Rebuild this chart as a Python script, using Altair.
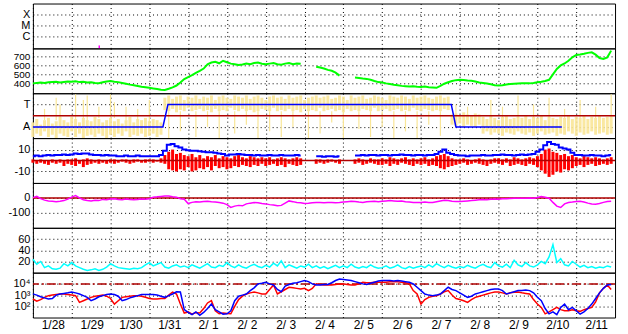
import altair as alt
import pandas as pd

# ---------------- time base ----------------
T0 = pd.Timestamp("2021-01-28", tz="UTC")
T0_MS = int(T0.value // 10**6)
DAY_MS = 86400000
STEP = 0.1  # days between samples
N_DAYS = 15

def day_ms(d):
    return T0_MS + d * DAY_MS

day_ticks = [day_ms(d) for d in range(N_DAYS)]

# ---------------- data ----------------
# flare marks (X/M/C panel)
flare_day = [1.71]
flare_lo = [-0.1]
flare_hi = [0.17]

# solar wind speed (km/s)
speed = [
    400, 405, 410, 404, 412, 415, 418, 410, 416, 420,
    418, 424, 414, 418, 410, 412, 404, 402, 412, 420,
    426, 418, 414, 405, 395, 386, 378, 370, 362, 356,
    350, 344, 338, 330, 326, 340, 356, 376, 410, 448,
    470, 492, 518, 540, 565, 612, 632, 640, 624, 652,
    636, 620, 614, 604, 610, 622, 614, 626, 632, 618,
    612, 620, 626, 614, 608, 620, 626, 614, 622, 618,
    None, None, None, 585, 576, 566, 550, 540, 520, 486,
    None, None, None, 465, 460, 454, 450, 440, 426, 414,
    410, 400, 392, 384, 378, 372, 368, 364, 368, 362,
    360, 366, 358, 354, 350, 372, 396, 412, 426, 436,
    440, 438, 432, 428, 420, 410, 404, 398, 390, 380,
    375, 380, 388, 394, 396, 398, 400, 402, 400, 405,
    412, 418, 426, 440, 500, 560, 600, 622, 652, 690,
    716, 722, 730, 740, 746, 720, 682, 672, 690, 765,
]

# sector polarity scatter (A = 0, T = 1)
ya_lo = [
    -0.45, -0.3, -0.4, -0.2, -0.45, -0.35, -0.5, -0.3, -0.4, -0.45,
    -0.2, -0.45, -0.3, -0.5, -0.4, -0.35, -0.45, -0.3, -0.4, -0.5,
    -0.35, -0.45, -0.3, -0.4, -0.2, -0.45, -0.35, -0.4, -0.3, -0.45,
    -0.4, -0.3, -0.45, -0.35, 0.75, 0.7, 0.8, 0.65, 0.75, 0.7,
    0.85, 0.7, 0.75, 0.8, 0.7, 0.75, 0.65, 0.8, 0.7, 0.75,
    0.7, 0.85, 0.75, 0.7, 0.8, 0.7, 0.75, 0.65, 0.7, 0.8,
    0.75, 0.7, 0.85, 0.7, 0.75, 0.7, 0.8, 0.7, 0.75, 0.65,
    0.8, 0.7, 0.75, 0.7, 0.85, 0.7, 0.75, 0.8, 0.7, 0.75,
    0.65, 0.8, 0.7, 0.75, 0.7, 0.8, 0.75, 0.7, 0.85, 0.7,
    0.75, 0.8, 0.7, 0.75, 0.8, 0.7, 0.75, 0.7, 0.85, 0.75,
    0.7, 0.8, 0.75, 0.7, 0.75, 0.7, 0.8, 0.75, 0.1, 0.05,
    0.15, 0.0, 0.1, 0.05, 0.0, 0.1, -0.3, -0.2, -0.35, -0.25,
    -0.3, -0.4, -0.25, -0.3, -0.35, -0.2, -0.3, -0.35, -0.25, -0.4,
    -0.3, -0.2, -0.35, -0.3, -0.25, -0.4, -0.3, -0.35, -0.2, -0.3,
    -0.4, -0.25, -0.35, -0.3, -0.2, -0.35, -0.3, -0.25, -0.35, -0.3,
]
ya_hi = [
    0.2, 0.35, 0.1, 0.3, 0.4, 0.15, 0.25, 0.45, 0.3, 0.2,
    0.45, 0.35, 0.2, 0.4, 0.3, 0.25, 0.45, 0.35, 0.2, 0.3,
    0.4, 0.25, 0.35, 0.15, 0.3, 0.45, 0.2, 0.35, 0.3, 0.4,
    0.25, 0.35, 0.3, 0.2, 1.3, 1.4, 1.25, 1.35, 1.4, 1.2,
    1.35, 1.3, 1.4, 1.25, 1.35, 1.3, 1.4, 1.2, 1.35, 1.4,
    1.3, 1.25, 1.4, 1.35, 1.3, 1.4, 1.25, 1.35, 1.4, 1.3,
    1.2, 1.35, 1.4, 1.3, 1.35, 1.25, 1.4, 1.3, 1.35, 1.4,
    1.2, 1.3, 1.35, 1.4, 1.3, 1.35, 1.4, 1.25, 1.3, 1.4,
    1.35, 1.2, 1.4, 1.3, 1.35, 1.4, 1.25, 1.3, 1.4, 1.35,
    1.3, 1.2, 1.4, 1.35, 1.3, 1.4, 1.35, 1.25, 1.4, 1.3,
    1.35, 1.4, 1.3, 1.25, 1.35, 1.4, 1.3, 1.35, 0.55, 0.6,
    0.5, 0.65, 0.55, 0.5, 0.6, 0.55, 0.45, 0.35, 0.5, 0.4,
    0.3, 0.45, 0.5, 0.35, 0.4, 0.45, 0.4, 0.5, 0.35, 0.45,
    0.4, 0.5, 0.3, 0.45, 0.4, 0.35, 0.45, 0.4, 0.5, 0.35,
    0.45, 0.4, 0.5, 0.35, 0.45, 0.4, 0.5, 0.4, 0.45, 0.5,
]
spread_i = [3, 6, 7, 11, 13, 14, 17, 20, 21, 24, 27, 30,
            35, 38, 42, 45, 48, 52, 55, 58, 61, 64, 67, 71, 74, 77, 80, 84,
            87, 90, 93, 96, 99, 102, 105,
            109, 112, 118, 121, 125, 129, 133, 137, 141, 145, 149]
spread_lo = [0.3, 0.3, 0.4, 0.3, 0.4, 0.3, 0.4, 0.3, 0.4, 0.3, 0.3, 0.2,
             -0.5, -0.2, -0.45, 0.0, -0.5, -0.3, 0.1, -0.5, -0.2, -0.45, 0.0, -0.5, -0.3, 0.2, -0.5, -0.1,
             -0.45, 0.0, -0.5, -0.2, -0.5, 0.1, -0.4,
             0.5, 0.5, 0.4, 0.4, 0.4, 0.4, 0.4, 0.4, 0.4, 0.4, 0.4]
spread_hi = [0.8, 1.3, 1.0, 1.45, 1.2, 1.4, 0.9, 1.45, 1.1, 0.9, 0.8, 1.2,
             0.7, 0.7, 0.7, 0.7, 0.7, 0.7, 0.7, 0.7, 0.7, 0.7, 0.7, 0.7, 0.7, 0.7, 0.7, 0.7,
             0.7, 0.7, 0.7, 0.7, 0.7, 0.7, 0.7,
             1.0, 0.9, 1.2, 0.9, 1.4, 1.0, 1.3, 0.8, 1.2, 0.9, 1.45]
ta_day = [0, 3.35, 3.48, 10.78, 10.9, 13.63]
ta_val = [0, 0, 1, 1, 0, 0]

# IMF Bt (blue) and Bz range (red), nT
bt = [
    4, 4.5, 4, 4.5, 5, 4.5, 5, 5, 5.5, 5,
    5.5, 6.5, 6, 6.5, 6.5, 5.5, 5, 5, 4.5, 5,
    4.5, 4.5, 4, 4, 4.5, 4, 4, 4.5, 4, 4,
    4, 4, 4, 5, 9, 14.5, 15, 13, 12, 10,
    9.5, 9, 9, 8.5, 8, 7.5, 7.5, 7, 6.5, 6,
    4.5, 5.5, 5.5, 6, 5.5, 5, 5, 4.5, 5, 4.5,
    4.5, 5, 4.5, 4.5, 5, 4.5, 4.5, 4.5, 5, 4.5,
    None, None, None, 4, 4, 3.5, 4, 4, 3.5, 4,
    None, None, None, 4.5, 4.5, 5, 4.5, 5, 5, 4.5,
    5, 5, 4.5, 5, 5, 5.5, 5, 5, 4.5, 5,
    5, 4.5, 5, 5, 6, 8, 10, 7, 6, 5,
    4.5, 4.5, 4, 4.5, 4.5, 4.5, 5, 4.5, 4.5, 5,
    5, 5.5, 5, 5, 4.5, 5, 5.5, 5, 5.5, 6,
    8, 10, 14, 17, 15, 14.5, 12, 11, 10, 7,
    5, 5, 4.5, 4.5, 5, 4.5, 4.5, 4, 4.5, 5,
]
bz_lo = [
    -2, -3, -2, -3, -4, -2, -3, -2, -5, -3,
    -4, -5, -3, -6, -4, -3, -2, -3, -2, -3,
    -2, -3, -2, -1, -2, -3, -2, -1, -2, -2,
    -1, -2, -1, -2, -3, -8, -9, -10, -8, -9,
    -6, -10, -9, -7, -8, -6, -9, -5, -7, -6,
    -8, -7, -5, -6, -4, -5, -6, -4, -5, -3,
    -5, -4, -3, -5, -4, -6, -3, -4, -5, -4,
    None, None, None, -3, -2, -3, -2, -1, -2, -3,
    None, None, None, -3, -2, -4, -3, -2, -3, -4,
    -4, -3, -5, -3, -4, -2, -3, -4, -5, -3,
    -4, -3, -5, -4, -5, -7, -8, -6, -5, -4,
    -3, -2, -4, -3, -2, -3, -4, -5, -3, -2,
    -3, -4, -2, -5, -4, -3, -4, -5, -3, -4,
    -6, -9, -12, -15, -13, -10, -11, -8, -9, -7,
    -5, -4, -6, -4, -3, -5, -4, -3, -4, -3,
]
bz_hi = [
    1, 0, 1, 0, 0, 1, 0, 1, 0, 1,
    1, 2, 0, 1, 2, 1, 0, 1, 0, 0,
    1, 1, 0, 1, 1, 0, 1, 1, 0, 1,
    1, 1, 0, 2, 5, 8, 10, 6, 7, 5,
    4, 6, 3, 5, 2, 4, 3, 5, 2, 4,
    3, 2, 4, 5, 3, 2, 4, 3, 2, 3,
    2, 3, 1, 2, 3, 2, 1, 2, 3, 2,
    None, None, None, 1, 1, 0, 1, 1, 0, 1,
    None, None, None, 1, 2, 1, 0, 2, 1, 1,
    2, 1, 3, 2, 1, 2, 3, 1, 2, 1,
    2, 3, 1, 2, 4, 5, 6, 4, 2, 1,
    1, 2, 1, 0, 1, 2, 1, 0, 1, 2,
    2, 1, 2, 1, 3, 2, 1, 2, 3, 2,
    4, 6, 10, 11, 8, 7, 5, 6, 4, 5,
    3, 2, 4, 3, 2, 3, 2, 1, 2, 3,
]

# Dst index (nT)
dst = [
    2, 10, -5, -15, -20, -22, -25, -22, -18, -8,
    5, 15, 0, -12, -18, -20, -15, -18, -10, -12,
    -8, -5, -10, -12, -8, -10, -12, -10, -8, -9,
    -5, 5, 7, 10, 12, 13, 8, 5, -5, -9,
    -38, -30, -25, -28, -24, -22, -26, -28, -31, -35,
    -45, -64, -55, -50, -53, -40, -35, -31, -33, -38,
    -40, -45, -48, -53, -50, -35, -20, -25, -31, -33,
    -38, -36, -33, -31, -30, -32, -31, -30, -33, -31,
    -28, -25, -22, -24, -28, -30, -26, -24, -22, -25,
    -22, -20, -18, -20, -22, -20, -25, -28, -31, -30,
    -31, -28, -31, -30, -25, -20, -16, -18, -22, -24,
    -24, -22, -20, -18, -15, -12, -10, -12, -9, -8,
    -9, -6, -5, -4, -3, -2, -3, -2, -1, -2,
    3, 9, 5, -2, -30, -55, -64, -40, -31, -28,
    -24, -22, -28, -35, -40, -42, -38, -30, -24, -22,
]

# cyan series
cyan = [
    24, 15, 20, 9, 12, 7, 6, 8, 16, 12,
    18, 12, 9, 6, 4, 5, 7, 4, 6, 10,
    16, 12, 9, 8, 7, 6, 8, 7, 9, 14,
    18, 12, 15, 18, 10, 8, 12, 14, 10, 12,
    9, 14, 11, 8, 12, 16, 10, 9, 13, 11,
    18, 12, 9, 14, 10, 8, 12, 15, 11, 9,
    13, 10, 17, 12, 21, 9, 14, 11, 8, 12,
    10, 15, 9, 12, 8, 11, 7, 10, 13, 9,
    12, 9, 15, 10, 8, 11, 9, 14, 10, 8,
    9, 12, 8, 10, 14, 9, 7, 11, 8, 10,
    12, 9, 14, 10, 16, 12, 9, 13, 10, 8,
    11, 9, 13, 10, 8, 12, 15, 11, 9, 18,
    12, 10, 15, 9, 22, 14, 11, 18, 12, 10,
    14, 20, 16, 28, 50, 18, 25, 14, 12, 20,
    15, 10, 13, 9, 11, 8, 10, 9, 12, 10,
]

# particle flux, log10 values (blue and red)
flux_blue_exp = [
    3.11, 3.0, 2.85, 2.75, 2.65, 2.7, 3.0, 3.1, 3.15, 3.2,
    3.27, 3.2, 3.1, 2.95, 2.8, 2.5, 2.65, 2.85, 2.95, 3.05,
    3.1, 3.05, 2.9, 2.5, 2.6, 2.75, 2.85, 2.95, 3.05, 3.05,
    3.05, 3.05, 3.0, 2.9, 2.8, 2.95, 3.1, 3.3, 3.27, 1.7,
    1.45, 1.25, 1.5, 1.2, 1.45, 1.8, 2.2, 1.7, 1.5, 1.3,
    1.33, 1.6, 2.5, 2.9, 3.0, 3.1, 3.4, 3.65, 4.0, 4.05,
    4.14, 4.0, 3.9, 3.5, 3.3, 3.8, 3.95, 4.05, 4.1, 4.2,
    4.3, 4.2, 4.0, 3.9, 3.9, 3.95, 3.95, 4.1, 4.3, 4.44,
    4.4, 4.35, 4.3, 4.2, 4.1, 4.0, 3.95, 4.05, 4.15, 4.25,
    4.3, 4.3, 4.3, 4.25, 4.3, 4.25, 4.2, 4.15, 4.0, 3.7,
    3.4, 3.1, 3.0, 2.95, 3.0, 3.1, 3.4, 3.7, 3.5, 3.4,
    3.2, 3.0, 2.8, 2.9, 3.1, 3.2, 3.3, 3.4, 3.5, 3.55,
    3.55, 3.4, 3.1, 3.2, 3.3, 3.4, 3.4, 3.45, 3.4, 3.2,
    2.8, 2.5, 1.8, 1.33, 1.5, 1.25, 1.9, 2.2, 1.7, 1.9,
    1.6, 1.3, 1.5, 1.8, 2.2, 2.7, 3.2, 3.6, 3.9, 3.95,
]
flux_red_exp = [
    2.65, 2.45, 2.6, 2.8, 2.95, 3.0, 3.05, 3.1, 3.1, 3.05,
    3.0, 2.95, 2.35, 2.5, 2.65, 2.8, 2.9, 2.95, 3.0, 2.9,
    2.7, 2.2, 2.5, 2.8, 2.85, 2.9, 2.95, 2.95, 2.9, 2.8,
    2.7, 2.65, 2.65, 2.7, 2.7, 3.0, 3.27, 3.1, 2.2, 1.4,
    1.5, 1.3, 1.45, 1.4, 1.8, 2.3, 2.5, 1.6, 1.33, 1.4,
    1.35, 1.33, 2.0, 2.6, 2.9, 3.1, 3.2, 3.27, 3.2, 3.1,
    3.1, 3.5, 3.9, 3.1, 3.3, 3.5, 3.7, 3.65, 3.6, 3.55,
    3.6, 3.4, 3.6, 4.0, 3.95, 3.9, 3.9, 3.9, 3.95, 4.0,
    4.0, 3.95, 3.9, 3.9, 4.0, 4.14, 4.1, 4.1, 4.14, 4.14,
    4.14, 4.15, 4.2, 4.2, 4.2, 4.15, 4.1, 4.0, 3.4, 3.1,
    2.2, 2.6, 2.8, 2.9, 2.95, 3.1, 3.3, 3.4, 3.0, 2.7,
    2.6, 2.5, 2.35, 2.6, 2.8, 2.9, 3.0, 3.1, 3.2, 3.27,
    3.27, 3.2, 3.1, 3.2, 3.25, 3.27, 3.2, 3.15, 3.1, 2.6,
    2.2, 1.9, 1.33, 1.5, 1.7, 1.9, 1.7, 1.6, 1.6, 1.7,
    1.6, 1.55, 1.7, 1.8, 1.9, 2.4, 3.2, 3.6, 3.9, 3.5,
]

# ---------------- tables ----------------
def series(**cols):
    n = min(len(c) for c in cols.values())
    rows, seg, prev_none = [], 0, False
    for i in range(n):
        vals = {k: c[i] for k, c in cols.items()}
        if any(v is None for v in vals.values()):
            if not prev_none:
                seg += 1
            prev_none = True
            continue
        prev_none = False
        rows.append({"t": day_ms(i * STEP), "seg": seg, **vals})
    return pd.DataFrame(rows)

speed_df = series(v=speed)
core_df = series(lo=ya_lo, hi=ya_hi)
spread_df = pd.DataFrame({"t": [day_ms(i * STEP) for i in spread_i], "lo": spread_lo, "hi": spread_hi})
ta_df = pd.DataFrame({"t": [day_ms(d) for d in ta_day], "v": ta_val})
bt_df = series(v=bt)
bz_df = series(lo=bz_lo, hi=bz_hi)
dst_df = series(v=dst)
cyan_df = series(v=cyan)
fb_df = series(v=[10 ** e for e in flux_blue_exp])
fr_df = series(v=[10 ** e for e in flux_red_exp])
flare_df = pd.DataFrame({"t": [day_ms(d) for d in flare_day], "lo": flare_lo, "hi": flare_hi})
one = pd.DataFrame({"a": [0]})

# ---------------- chart ----------------
W, H = 584, 45
DARKRED = "#b00000"
YEL = "#f9e697"

def X(last=False):
    return alt.X(
        "t:T",
        scale=alt.Scale(type="utc", domain=[day_ms(0), day_ms(N_DAYS)]),
        axis=alt.Axis(values=day_ticks, labels=last, format="%-m/%e", labelOffset=20,
                      labelFlush=False, labelOverlap=False, labelPadding=2, title=None,
                      labelFontSize=12,
                      grid=True, ticks=False, domain=False,
                      minExtent=0 if not last else 15, maxExtent=0 if not last else 15),
    )

PLAIN = "'' + datum.value"

def Yax(values, expr=PLAIN, size=11):
    return alt.Axis(values=values, grid=True, title=None, ticks=False, domain=False,
                    labelPadding=3, minExtent=32, maxExtent=32, labelOverlap=False,
                    labelFlush=False, labelExpr=expr, labelFontSize=size)

def sc(lo, hi, **kw):
    return alt.Scale(domain=[lo, hi], nice=False, zero=False, **kw)

# 1: flare class
s1, a1 = sc(-0.1, 4.0), Yax([1, 2, 3], "datum.value == 3 ? 'X' : datum.value == 2 ? 'M' : 'C'")
p1 = alt.Chart(flare_df).mark_rule(color="#ff00ff", strokeWidth=1.5).encode(
    x=X(), y=alt.Y("lo:Q", scale=s1, axis=a1), y2="hi:Q").properties(width=W, height=H)

# 2: speed
s2, a2 = sc(290, 790), Yax([400, 500, 600, 700], size=10)
p2 = alt.Chart(speed_df).mark_line(color="#00ff00", strokeWidth=2).encode(
    x=X(), y=alt.Y("v:Q", scale=s2, axis=a2), detail="seg:N").properties(width=W, height=H)

# 3: sector
s3, a3 = sc(-0.5, 1.5), Yax([0, 1], "datum.value == 1 ? 'T' : 'A'")
p3 = alt.layer(
    alt.Chart(spread_df).mark_rule(color=YEL, strokeWidth=1.2).encode(
        x=X(), y=alt.Y("lo:Q", scale=s3, axis=a3), y2="hi:Q"),
    alt.Chart(core_df).mark_rule(color=YEL, strokeWidth=3, opacity=0.9).encode(
        x=X(), y=alt.Y("lo:Q", scale=s3, axis=a3), y2="hi:Q"),
    alt.Chart(one).mark_rule(color=DARKRED, strokeWidth=1.5).encode(y=alt.datum(0.5)),
    alt.Chart(ta_df).mark_line(color="#0000ff", strokeWidth=1.5).encode(
        x=X(), y=alt.Y("v:Q", scale=s3, axis=a3)),
).properties(width=W, height=H)

# 4: IMF
s4, a4 = sc(-20.5, 20.5), Yax([-10, 0, 10])
p4 = alt.layer(
    alt.Chart(bz_df).mark_rule(color="#ff0000", strokeWidth=3).encode(
        x=X(), y=alt.Y("lo:Q", scale=s4, axis=a4), y2="hi:Q"),
    alt.Chart(bt_df).mark_line(color="#0000ff", strokeWidth=2, interpolate="step").encode(
        x=X(), y=alt.Y("v:Q", scale=s4, axis=a4), detail="seg:N"),
    alt.Chart(one).mark_rule(color=DARKRED, strokeWidth=1.5).encode(y=alt.datum(0)),
).properties(width=W, height=H)

# 5: Dst
s5, a5 = sc(-200, 100), Yax([-100, 0])
p5 = alt.layer(
    alt.Chart(one).mark_rule(color=DARKRED, strokeWidth=1.5).encode(y=alt.datum(0)),
    alt.Chart(dst_df).mark_line(color="#ff00ff", strokeWidth=1.5).encode(
        x=X(), y=alt.Y("v:Q", scale=s5, axis=a5), detail="seg:N"),
).properties(width=W, height=H)

# 6: cyan
s6, a6 = sc(0, 80), Yax([20, 40, 60])
p6 = alt.Chart(cyan_df).mark_line(color="#00ffff", strokeWidth=1.5).encode(
    x=X(), y=alt.Y("v:Q", scale=s6, axis=a6), detail="seg:N").properties(width=W, height=H)

# 7: flux (log)
s7 = sc(10, 100000, type="log")
a7 = Yax([100, 1000, 10000], "datum.value == 10000 ? '10⁴' : datum.value == 1000 ? '10³' : '10²'")
p7 = alt.layer(
    alt.Chart(one).mark_rule(color=DARKRED, strokeWidth=1.5, strokeDash=[9, 3, 2, 3]).encode(
        y=alt.datum(10000)),
    alt.Chart(fr_df).mark_line(color="#ff0000", strokeWidth=1.5).encode(
        x=X(True), y=alt.Y("v:Q", scale=s7, axis=a7), detail="seg:N"),
    alt.Chart(fb_df).mark_line(color="#0000ff", strokeWidth=1.5).encode(
        x=X(True), y=alt.Y("v:Q", scale=s7, axis=a7), detail="seg:N"),
).properties(width=W, height=H)

chart = alt.vconcat(p1, p2, p3, p4, p5, p6, p7, spacing=0, bounds="flush").properties(
    padding={"left": 0, "top": 2, "right": 11, "bottom": 2},
    background="white",
).configure_view(stroke="black", strokeWidth=1).configure_axis(
    labelFont="Liberation Sans", labelFontSize=12, labelColor="black",
    gridColor="black", gridDash=[1, 3], gridOpacity=1, gridWidth=1,
)

chart.save("out.html", embed_options={"renderer": "svg", "actions": False})
